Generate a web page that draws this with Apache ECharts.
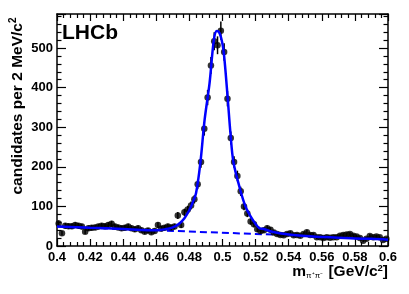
<!DOCTYPE html>
<html><head><meta charset="utf-8">
<script src="https://cdn.jsdelivr.net/npm/echarts@6/dist/echarts.min.js"></script>
<style>html,body{margin:0;padding:0;background:#fff}#c{width:409px;height:294px}</style>
</head><body><div id="c"></div>
<script>
// Data: bin centres (GeV/c^2), 2 MeV bins from 0.400 to 0.600
var binStart = 0.401, binWidth = 0.002;
var counts = [
 57,32,51,50,50,53,51,49,36,45,
 46,47,49,51,50,53,56,49,47,45,
 46,49,45,42,45,40,36,39,35,38,
 53,44,46,49,47,49,77,53,85,92,
 102,118,156,212,296,375,456,517,507,544,
 490,372,273,212,177,138,100,82,62,55,
 42,38,40,45,41,34,30,28,27,30,
 32,27,28,26,30,35,28,28,22,22,
 20,22,21,22,22,26,28,29,30,26,
 24,20,13,18,25,22,24,22,15,18
];
// Fit curve
var curveX = [0.400,0.420,0.440,0.455,0.460,0.465,0.470,0.474,0.477,0.480,0.482,0.484,0.4866,0.4892,0.4922,0.4948,0.4966,0.4982,0.5000,0.5012,0.5032,0.5048,0.5066,0.5102,0.5139,0.5183,0.5223,0.525,0.530,0.540,0.550,0.560,0.570,0.580,0.590,0.600];
var curveY = [49,46,43,40,40,42,47,57,70,91,110,133,209,319,412,521,543,538,510,471,370,285,212,150,100,66,45,43,36,29,25,23,21,19,18,16];
// Background component
var bkgX = [0.400,0.600];
var bkgY = [49,18];
var xTicks = [0.4,0.42,0.44,0.46,0.48,0.5,0.52,0.54,0.56,0.58,0.6];
var yTicks = [0,100,200,300,400,500];

var pts = counts.map(function(v,i){ return [+(binStart + i*binWidth).toFixed(3), v]; });
var errs = counts.map(function(v,i){ var s=Math.sqrt(v); return [+(binStart + i*binWidth).toFixed(3), v-s, v+s]; });
var curve = curveX.map(function(x,i){ return [x, curveY[i]]; });
var bkg = bkgX.map(function(x,i){ return [x, bkgY[i]]; });

var FONT = 'Liberation Sans';
var lab = {fontFamily: FONT, fontWeight: 'bold', fontSize: 13, color: '#000'};
function xAx(pos, show){
  return {type:'value', position:pos, min:0.4, max:0.6, interval:0.02,
    axisLine:{show:true, onZero:false, lineStyle:{color:'#000', width:1.5}},
    axisTick:{show:true, inside:true, length:7, lineStyle:{color:'#000', width:1.2}},
    minorTick:{show:true, splitNumber:5, length:4, lineStyle:{color:'#000', width:1.2}},
    splitLine:{show:false},
    axisLabel: show ? Object.assign({margin:5, formatter:function(v){
      var r = +v.toFixed(2); return xTicks.indexOf(r)>=0 ? String(r) : '';}}, lab) : {show:false}
  };
}
function yAx(pos, show){
  return {type:'value', position:pos, min:0, max:586, interval:100,
    axisLine:{show:true, onZero:false, lineStyle:{color:'#000', width:1.5}},
    axisTick:{show:true, inside:true, length:9, lineStyle:{color:'#000', width:1.2}},
    minorTick:{show:true, splitNumber:5, length:4.5, lineStyle:{color:'#000', width:1.2}},
    splitLine:{show:false},
    axisLabel: show ? Object.assign({margin:4, showMaxLabel:false, formatter:function(v){
      return yTicks.indexOf(v)>=0 ? String(v) : '';}}, lab) : {show:false}
  };
}

var chart = echarts.init(document.getElementById('c'), null, {renderer:'canvas'});
chart.setOption({
  animation:false,
  backgroundColor:'#fff',
  grid:{left:57, right:21, top:14, bottom:48},
  xAxis:[xAx('bottom', true), xAx('top', false)],
  yAxis:[yAx('left', true), yAx('right', false)],
  series:[
    {type:'line', data:bkg, symbol:'none', z:1,
     lineStyle:{color:'#0000ff', width:2, type:[7,4]}},
    {type:'custom', data:errs, z:2,
     renderItem:function(params, api){
       var a = api.coord([api.value(0), api.value(1)]);
       var b = api.coord([api.value(0), api.value(2)]);
       return {type:'line', shape:{x1:a[0], y1:a[1], x2:b[0], y2:b[1]},
               style:{stroke:'#000', lineWidth:1.5}};
     }},
    {type:'scatter', data:pts, symbol:'circle', symbolSize:6.5, z:3,
     itemStyle:{color:'#000'}},
    {type:'line', data:curve, symbol:'none', smooth:0.35, z:4,
     lineStyle:{color:'#0000ff', width:2.5}}
  ],
  graphic:[
    {type:'text', left:62, top:23, z:10,
     style:{text:'LHCb', fontFamily:FONT, fontWeight:'bold', fontSize:21, fill:'#000'}},
    {type:'text', x:18, y:106, rotation:Math.PI/2, z:10,
     style:{text:'{a|candidates per 2 MeV/c}{s|2}', align:'center', verticalAlign:'middle',
       rich:{a:{fontFamily:FONT, fontWeight:'bold', fontSize:15.5, fill:'#000'},
             s:{fontFamily:FONT, fontWeight:'bold', fontSize:10, fill:'#000', verticalAlign:'top', padding:[0,0,9,0]}}}},
    {type:'text', right:21, top:263, z:10,
     style:{text:'{a|m}{b|π⁺π⁻}{a| [GeV/c}{s|2}{a|]}',
       rich:{a:{fontFamily:FONT, fontWeight:'bold', fontSize:15.5, fill:'#000'},
             b:{fontFamily:FONT, fontSize:8, fill:'#000', padding:[8,1,0,0]},
             s:{fontFamily:FONT, fontWeight:'bold', fontSize:9.5, fill:'#000', padding:[0,0,8,0]}}}}
  ]
});
</script>
</body></html>
